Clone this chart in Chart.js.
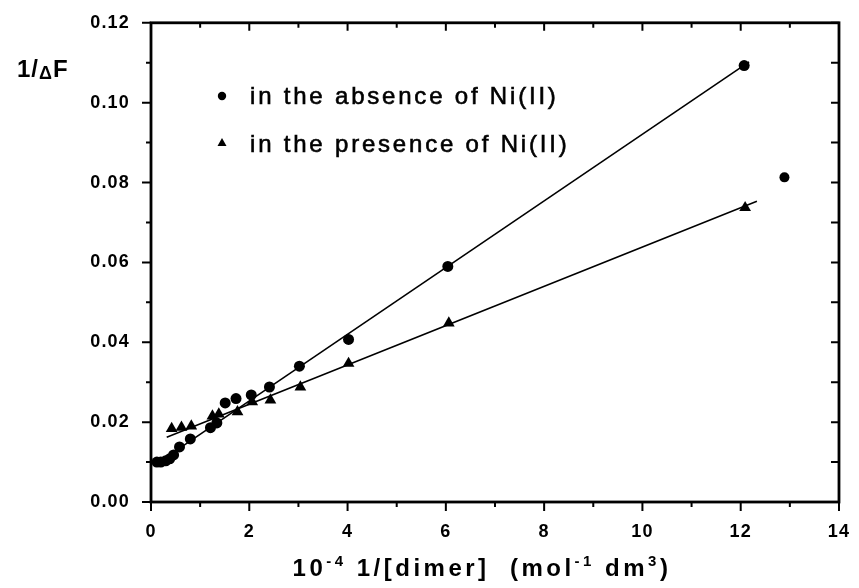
<!DOCTYPE html>
<html>
<head>
<meta charset="utf-8">
<script src="https://cdn.jsdelivr.net/npm/chart.js@4.4.0/dist/chart.umd.min.js"></script>
<style>
    html, body { margin: 0; padding: 0; background: #fff; }
    canvas { display: block; }
</style>
</head>
<body>
<canvas id="chart" width="859" height="588"></canvas>
<script>
// 図から読み取ったデータ
const absenceX = [0.12, 0.20, 0.30, 0.38, 0.46, 0.58, 0.80, 1.21, 1.34, 1.51, 1.73, 2.04, 2.41, 3.02, 4.02, 6.04, 12.07];
const absenceY = [0.0100, 0.0100, 0.0103, 0.0108, 0.0118, 0.0138, 0.0158, 0.0186, 0.0198, 0.0248, 0.0259, 0.0268, 0.0288, 0.0340, 0.0407, 0.0590, 0.1093];
const presenceX = [0.42, 0.62, 0.82, 1.25, 1.38, 1.76, 2.06, 2.43, 3.04, 4.02, 6.06, 12.09];
const presenceY = [0.0184, 0.0187, 0.0190, 0.0215, 0.0220, 0.0226, 0.0251, 0.0255, 0.0288, 0.0347, 0.0448, 0.0737];
const strayX = [12.89];
const strayY = [0.0813];

// 回帰直線（両端の点）
const absenceFitX = [0.12, 12.17];
const absenceFitY = [0.0096, 0.1102];
const presenceFitX = [0.32, 12.33];
const presenceFitY = [0.0162, 0.0753];

// 目盛とラベル
const xTicks = [0, 2, 4, 6, 8, 10, 12, 14];
const yTicks = [0.00, 0.02, 0.04, 0.06, 0.08, 0.10, 0.12];
const legendLabels = ['in the absence of Ni(II)', 'in the presence of Ni(II)'];

const FONT = "'Liberation Sans', Arial, Helvetica, sans-serif";

function toPoints(xs, ys) {
    return xs.map((x, i) => ({ x: x, y: ys[i] }));
}

// 文字間隔（目盛ラベル用）
const spacingPlugin = {
    id: 'spacing',
    beforeDraw(chart) {
        chart.ctx.letterSpacing = '1.2px';
    }
};

// 枠と目盛線
const framePlugin = {
    id: 'frame',
    afterDraw(chart) {
        const ctx = chart.ctx;
        const a = chart.chartArea;
        const xs = chart.scales.x;
        const ys = chart.scales.y;
        ctx.save();
        ctx.strokeStyle = '#000';
        ctx.lineWidth = 2.8;
        ctx.strokeRect(a.left, a.top, a.right - a.left, a.bottom - a.top);

        ctx.lineWidth = 2;
        ctx.beginPath();
        for (let i = 0; i <= 14; i++) {
            const px = xs.getPixelForValue(i);
            const len = i % 2 === 0 ? 9 : 5;
            ctx.moveTo(px, a.bottom);
            ctx.lineTo(px, a.bottom + len);
            ctx.moveTo(px, a.top);
            ctx.lineTo(px, a.top + (i % 2 === 0 ? 8 : 5));
        }
        for (let i = 0; i <= 12; i++) {
            const py = ys.getPixelForValue(i / 100);
            const len = i % 2 === 0 ? 9 : 5;
            ctx.moveTo(a.left, py);
            ctx.lineTo(a.left - len, py);
            ctx.moveTo(a.right, py);
            ctx.lineTo(a.right - 8, py);
        }
        ctx.stroke();
        ctx.restore();
    }
};

// 軸タイトルと凡例
const textPlugin = {
    id: 'texts',
    afterDraw(chart) {
        const ctx = chart.ctx;
        const a = chart.chartArea;
        ctx.save();
        ctx.fillStyle = '#000';
        ctx.strokeStyle = '#000';
        ctx.textAlign = 'left';
        ctx.textBaseline = 'alphabetic';

        // 縦軸タイトル 1/ΔF
        ctx.letterSpacing = '1px';
        ctx.font = 'bold 24px ' + FONT;
        let x = 17;
        ctx.fillText('1/', x, 77);
        x += ctx.measureText('1/').width;
        ctx.font = 'bold 18px ' + FONT;
        ctx.fillText('\u0394', x, 79);
        x += ctx.measureText('\u0394').width;
        ctx.font = 'bold 24px ' + FONT;
        ctx.fillText('F', x, 77);

        // 横軸タイトル
        const parts = [
            { t: '10', sup: false },
            { t: '-4', sup: true },
            { t: ' 1/[dimer]  (mol', sup: false },
            { t: '-1', sup: true },
            { t: ' dm', sup: false },
            { t: '3', sup: true },
            { t: ')', sup: false }
        ];
        ctx.letterSpacing = '3.5px';
        let total = 0;
        parts.forEach(p => {
            ctx.font = p.sup ? 'bold 15px ' + FONT : 'bold 24px ' + FONT;
            p.w = ctx.measureText(p.t).width;
            total += p.w;
        });
        x = 482 - total / 2;
        parts.forEach(p => {
            ctx.font = p.sup ? 'bold 15px ' + FONT : 'bold 24px ' + FONT;
            ctx.fillText(p.t, x, p.sup ? 566 : 576);
            x += p.w;
        });

        // 凡例
        ctx.font = '24px ' + FONT;
        ctx.letterSpacing = '2.8px';
        ctx.lineWidth = 0.6;
        ctx.fillText(legendLabels[0], 250, 104);
        ctx.strokeText(legendLabels[0], 250, 104);
        ctx.fillText(legendLabels[1], 250, 152);
        ctx.strokeText(legendLabels[1], 250, 152);
        ctx.beginPath();
        ctx.arc(222, 96, 4.2, 0, Math.PI * 2);
        ctx.fill();
        ctx.beginPath();
        ctx.moveTo(222, 138);
        ctx.lineTo(226.5, 146);
        ctx.lineTo(217.5, 146);
        ctx.closePath();
        ctx.fill();
        ctx.restore();
    }
};

const ctx = document.getElementById('chart').getContext('2d');
new Chart(ctx, {
    type: 'scatter',
    data: {
        datasets: [
            {
                label: legendLabels[0],
                data: toPoints(absenceX, absenceY),
                pointStyle: 'circle',
                pointRadius: 5.5,
                backgroundColor: '#000',
                borderColor: '#000',
                borderWidth: 0
            },
            {
                label: legendLabels[1],
                data: toPoints(presenceX, presenceY),
                pointStyle: 'triangle',
                pointRadius: 6.8,
                backgroundColor: '#000',
                borderColor: '#000',
                borderWidth: 0
            },
            {
                label: 'stray',
                data: toPoints(strayX, strayY),
                pointStyle: 'circle',
                pointRadius: 5,
                backgroundColor: '#000',
                borderColor: '#000',
                borderWidth: 0
            },
            {
                label: 'fit1',
                data: toPoints(absenceFitX, absenceFitY),
                showLine: true,
                pointRadius: 0,
                borderColor: '#000',
                borderWidth: 1.6
            },
            {
                label: 'fit2',
                data: toPoints(presenceFitX, presenceFitY),
                showLine: true,
                pointRadius: 0,
                borderColor: '#000',
                borderWidth: 1.6
            }
        ]
    },
    options: {
        responsive: false,
        animation: false,
        layout: { padding: { left: 0, top: 22, right: 13, bottom: 0 } },
        plugins: {
            legend: { display: false },
            tooltip: { enabled: false }
        },
        scales: {
            x: {
                type: 'linear',
                position: 'bottom',
                min: xTicks[0],
                max: xTicks[xTicks.length - 1],
                afterFit(s) { s.height = 86; },
                afterBuildTicks(s) { s.ticks = xTicks.map(v => ({ value: v })); },
                grid: { display: false, drawTicks: true, tickLength: 9 },
                border: { display: false },
                ticks: {
                    color: '#000',
                    padding: 10,
                    maxRotation: 0,
                    autoSkip: false,
                    font: { family: FONT, size: 18, weight: 'bold' },
                    callback: v => String(v)
                }
            },
            y: {
                type: 'linear',
                min: yTicks[0],
                max: yTicks[yTicks.length - 1],
                afterFit(s) { s.width = 151; },
                afterBuildTicks(s) { s.ticks = yTicks.map(v => ({ value: v })); },
                grid: { display: false, drawTicks: true, tickLength: 9 },
                border: { display: false },
                ticks: {
                    color: '#000',
                    padding: 12,
                    autoSkip: false,
                    font: { family: FONT, size: 18, weight: 'bold' },
                    callback: v => v.toFixed(2)
                }
            }
        }
    },
    plugins: [spacingPlugin, framePlugin, textPlugin]
});
</script>
</body>
</html>
